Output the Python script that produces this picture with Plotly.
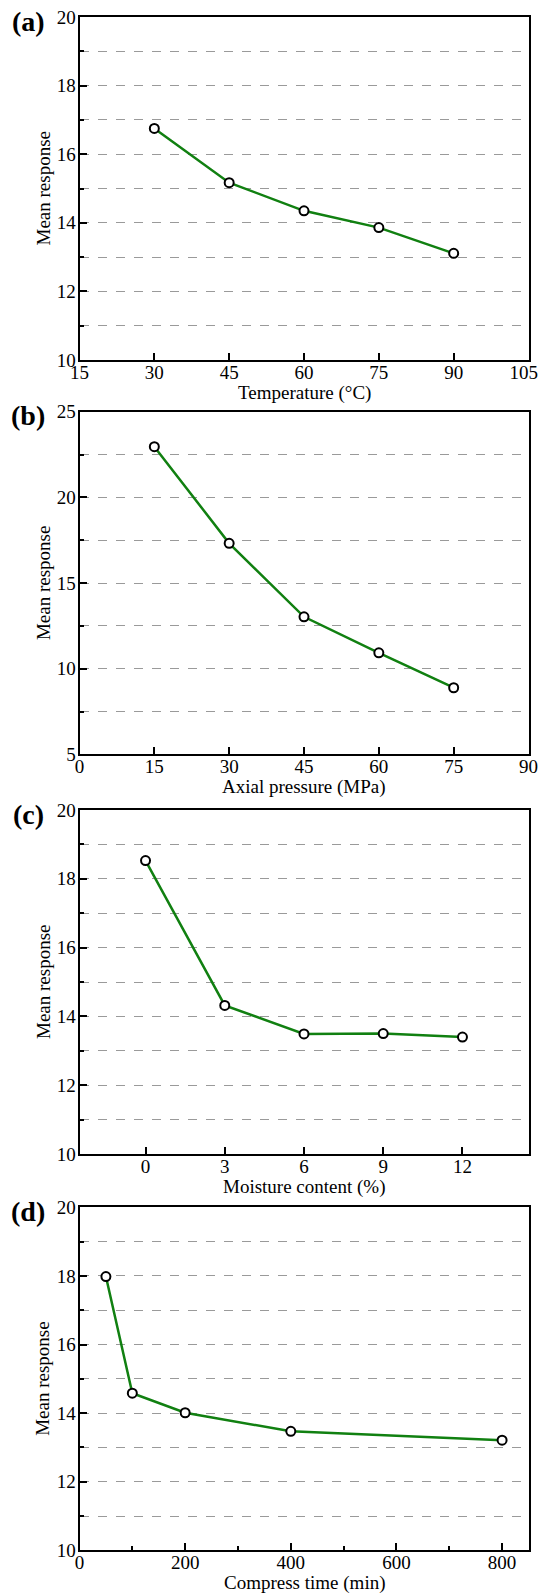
import plotly.graph_objects as go

# ---- data ----
temp_x = [30, 45, 60, 75, 90]
temp_y = [16.75, 15.17, 14.35, 13.86, 13.11]
press_x = [15, 30, 45, 60, 75]
press_y = [22.96, 17.32, 13.03, 10.93, 8.89]
moist_x = [0, 3, 6, 9, 12]
moist_y = [18.53, 14.32, 13.49, 13.50, 13.40]
time_x = [50, 100, 200, 400, 800]
time_y = [17.98, 14.58, 14.01, 13.47, 13.21]

temp_ticks = [15, 30, 45, 60, 75, 90, 105]
temp_ticktext = ["15", "30", "45", "60", "75", "90", "105\u00a0\u00a0"]
moist_ticks = [0, 3, 6, 9, 12]

panel_labels = ["(a)", "(b)", "(c)", "(d)"]
x_titles = ["Temperature (°C)", "Axial pressure (MPa)", "Moisture content (%)", "Compress time (min)"]
y_title = "Mean response"

W, H = 539, 1593
FONT = "Liberation Serif, Times New Roman, serif"
GREEN = "#118011"
FS = 19

# panel pixel boxes in page coordinates (top, bottom)
boxes = [(17, 360), (411.7, 754.4), (810, 1154), (1207.3, 1550.3)]
xl, xr = 79.5, 528.5


def px(xp):
    return xp / W


def py(yp):
    return 1 - yp / H


fig = go.Figure()

series = [(temp_x, temp_y), (press_x, press_y), (moist_x, moist_y), (time_x, time_y)]
for i, (xs, ys) in enumerate(series):
    n = "" if i == 0 else str(i + 1)
    fig.add_trace(go.Scatter(
        x=xs, y=ys, mode="lines+markers",
        line=dict(color=GREEN, width=2.5),
        marker=dict(symbol="circle", size=9, color="white", line=dict(color="black", width=2)),
        xaxis="x" + n, yaxis="y" + n, showlegend=False, hoverinfo="skip",
    ))

xcfg = [
    dict(range=[15, 105], tickvals=temp_ticks, ticktext=temp_ticktext),
    dict(range=[0, 90], tick0=0, dtick=15),
    dict(range=[-2.5, 14.5], tickvals=moist_ticks),
    dict(range=[0, 850], tick0=0, dtick=200,
         minor=dict(dtick=100, ticks="inside", ticklen=4, tickwidth=2, tickcolor="black")),
]
ycfg = [
    dict(range=[10, 20], tick0=10, dtick=2, mdt=1),
    dict(range=[5, 25], tick0=5, dtick=5, mdt=2.5),
    dict(range=[10, 20], tick0=10, dtick=2, mdt=1),
    dict(range=[10, 20], tick0=10, dtick=2, mdt=1),
]

layout = dict(
    width=W, height=H, margin=dict(l=0, r=0, t=0, b=0, autoexpand=False),
    paper_bgcolor="white", plot_bgcolor="white",
    font=dict(family=FONT, size=FS, color="black"),
    hovermode=False,
)
annotations = []
for i in range(4):
    n = "" if i == 0 else str(i + 1)
    top, bot = boxes[i]
    yd = [py(bot), py(top)]
    xd = [px(xl), px(xr)]
    xa = dict(
        domain=xd, anchor="y" + n, showline=True, linecolor="black", linewidth=2, mirror=True,
        ticks="inside", ticklen=7, tickwidth=2, tickcolor="black", showgrid=False, zeroline=False,
        automargin=False, ticklabelstandoff=-6, ticklabeloverflow="allow",
        tickfont=dict(family=FONT, size=FS, color="black"),
    )
    xa.update(xcfg[i])
    yc = dict(ycfg[i])
    mdt = yc.pop("mdt")
    ya = dict(
        domain=yd, anchor="x" + n, showline=True, linecolor="black", linewidth=2, mirror=True,
        ticks="inside", ticklen=7, tickwidth=2, tickcolor="black", zeroline=False,
        automargin=False, ticklabelstandoff=-2, ticklabeloverflow="allow",
        showgrid=True, gridcolor="#9a9a9a", gridwidth=1, griddash="dash",
        minor=dict(dtick=mdt, ticks="inside", ticklen=4, tickwidth=2, tickcolor="black",
                   showgrid=True, gridcolor="#9a9a9a", gridwidth=1, griddash="dash"),
        tickfont=dict(family=FONT, size=FS, color="black"),
    )
    ya.update(yc)
    layout["xaxis" + n] = xa
    layout["yaxis" + n] = ya
    # panel label
    annotations.append(dict(
        text="<b>" + panel_labels[i] + "</b>", x=px(28), y=py(top + 4),
        xref="paper", yref="paper", xanchor="center", yanchor="middle", showarrow=False,
        font=dict(family=FONT, size=28, color="black"),
    ))
    # x axis title
    annotations.append(dict(
        text=x_titles[i], x=px((xl + xr) / 2), y=py(bot + 33),
        xref="paper", yref="paper", xanchor="center", yanchor="middle", showarrow=False,
        font=dict(family=FONT, size=FS, color="black"),
    ))
    # y axis title
    annotations.append(dict(
        text=y_title, x=px(43), y=py((top + bot) / 2), textangle=-90,
        xref="paper", yref="paper", xanchor="center", yanchor="middle", showarrow=False,
        font=dict(family=FONT, size=FS, color="black"),
    ))
layout["annotations"] = annotations
fig.update_layout(**layout)

fig.write_html("out.html", config={"displayModeBar": False},
               post_script="document.body.style.margin='0px';")
